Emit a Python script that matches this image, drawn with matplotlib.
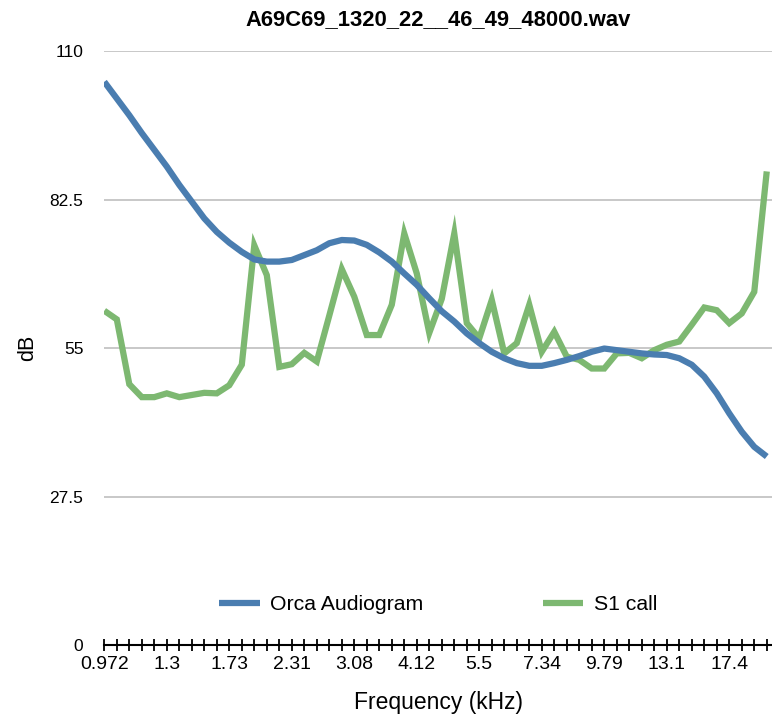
import numpy as np
import matplotlib
matplotlib.use("Agg")
import matplotlib.pyplot as plt

plt.rcParams['font.family'] = ['Liberation Sans', 'DejaVu Sans']

title = "A69C69_1320_22__46_49_48000.wav"

# frequency labels shown every 5th category (kHz)
tick_labels = ["0.972", "1.3", "1.73", "2.31", "3.08", "4.12",
               "5.5", "7.34", "9.79", "13.1", "17.4"]

orca_audiogram = [104.3, 101.2, 98.1, 94.8, 91.7, 88.6, 85.2, 82.1, 79.0, 76.5,
                  74.5, 72.8, 71.4, 71.0, 71.0, 71.3, 72.2, 73.1, 74.4, 75.0,
                  74.9, 74.1, 72.7, 71.0, 68.8, 66.7, 64.2, 61.8, 59.9, 57.7,
                  55.9, 54.3, 53.1, 52.2, 51.7, 51.7, 52.2, 52.8, 53.5, 54.3,
                  54.9, 54.6, 54.3, 54.0, 53.8, 53.7, 53.1, 51.9, 49.7, 46.6,
                  42.9, 39.5, 36.7, 34.9]

s1_call = [61.9, 60.3, 48.3, 45.9, 45.9, 46.6, 45.9, 46.3, 46.7, 46.6,
           48.1, 51.9, 74.0, 68.5, 51.5, 52.0, 54.1, 52.5, 61.0, 69.6,
           64.5, 57.4, 57.4, 63.0, 76.2, 68.8, 57.8, 64.1, 76.2, 59.6,
           56.8, 63.9, 54.0, 55.9, 63.0, 54.3, 58.0, 53.4, 52.8, 51.2,
           51.2, 54.0, 54.1, 53.1, 54.6, 55.6, 56.2, 59.3, 62.5, 62.0,
           59.6, 61.4, 65.4, 87.7]

y_ticks = [0, 27.5, 55, 82.5, 110]
y_labels = ["0", "27.5", "55", "82.5", "110"]

blue = "#4a7db0"
green = "#7db871"

fig = plt.figure(figsize=(7.72, 7.21), dpi=100)
ax = fig.add_axes([104.3 / 772, 1 - 645 / 721, 1 - 104.3 / 772, (645 - 51) / 721])

x = np.arange(len(orca_audiogram))
ax.plot(x, orca_audiogram, color=blue, lw=4.5, solid_capstyle='butt',
        solid_joinstyle='round', label="Orca Audiogram", zorder=3)
ax.plot(x, s1_call, color=green, lw=4.5, solid_capstyle='butt',
        solid_joinstyle='miter', label="S1 call", zorder=2)

ax.set_xlim(0, len(x) - 1 + 0.42)
ax.set_ylim(0, 110)

# horizontal gridlines (not at zero, that is the axis line)
for yv in y_ticks[1:]:
    ax.axhline(yv, color="#c4c4c4", lw=1.3, zorder=1)

ax.set_yticks(y_ticks)
ax.set_yticklabels(y_labels, fontsize=12.5)
ax.tick_params(axis='y', length=0, pad=15)

ax.set_xticks(x, minor=True)
ax.set_xticks(x[::5])
ax.set_xticklabels(tick_labels, fontsize=14)
ax.tick_params(axis='x', which='both', direction='inout', length=8,
               width=1.3, color='black', pad=4)

for side in ['top', 'right', 'left']:
    ax.spines[side].set_visible(False)
ax.spines['bottom'].set_linewidth(1.5)

ax.set_title(title, fontsize=15.8, fontweight='bold', pad=19)
ax.set_ylabel("dB", fontsize=15.5, labelpad=8)
ax.set_xlabel("Frequency (kHz)", fontsize=16.5, labelpad=13)

ax.legend(loc='center', bbox_to_anchor=(0.5, 0.068), ncol=2, frameon=False,
          fontsize=15.3, handlelength=1.9, columnspacing=5.6, handletextpad=0.5)

fig.savefig("out.png", dpi=100)
